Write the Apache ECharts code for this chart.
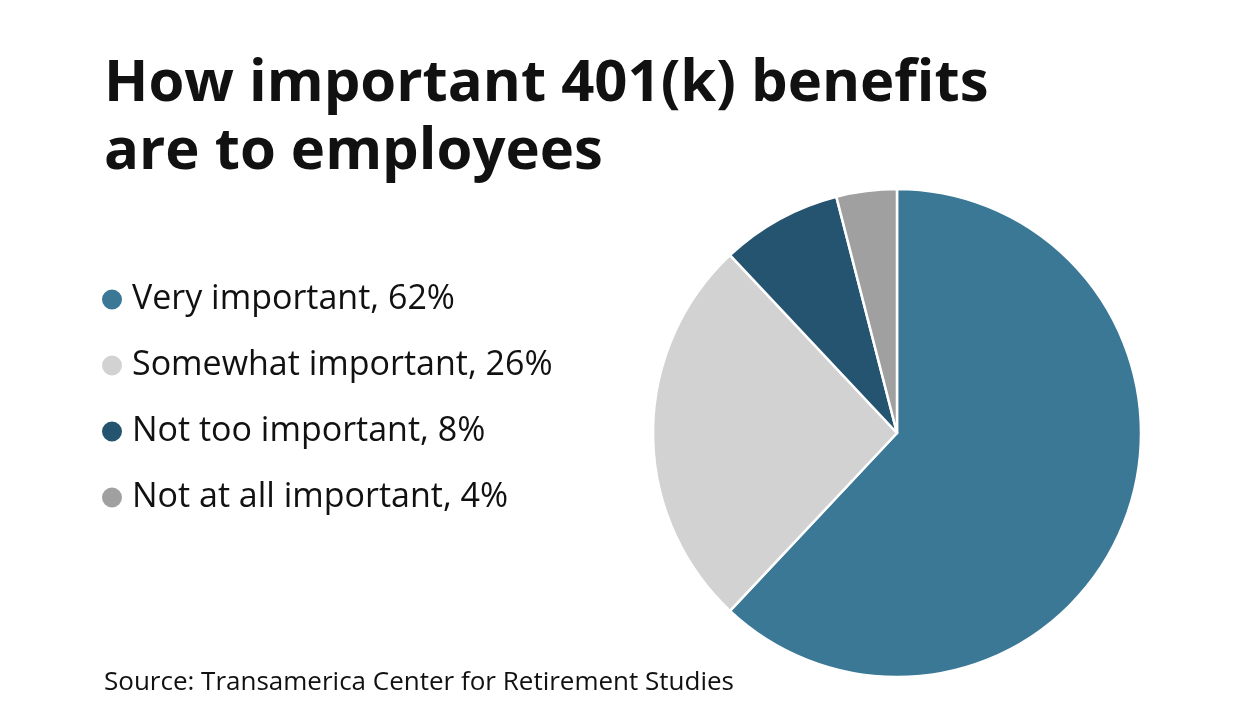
<!DOCTYPE html>
<html><head><meta charset="utf-8">
<script src="https://cdn.jsdelivr.net/npm/echarts@6/dist/echarts.min.js"></script>
<style>html,body{margin:0;padding:0;background:#fff}#c{width:1242px;height:726px}</style>
</head><body><div id="c"></div>
<script>
const categories = ["Very important", "Somewhat important", "Not too important", "Not at all important"];
const values = [62, 26, 8, 4];
const colors = ["#3a7896", "#d3d2d3", "#245470", "#a0a0a0"];
const titleText = "How important 401(k) benefits\nare to employees";
const sourceText = "Source: Transamerica Center for Retirement Studies";

const chart = echarts.init(document.getElementById('c'));
chart.setOption({
  backgroundColor: '#ffffff',
  title: [{
    text: titleText, left: 99, top: 45,
    textStyle: {fontFamily: 'Open Sans', fontWeight: 'bold', fontSize: 58, lineHeight: 68, color: '#111'}
  }, {
    text: sourceText, left: 99, top: 665,
    textStyle: {fontFamily: 'Open Sans', fontWeight: 'normal', fontSize: 26, color: '#111'}
  }],
  legend: {
    orient: 'vertical', left: 95, top: 277, icon: 'circle',
    itemWidth: 22, itemHeight: 22, itemGap: 31,
    data: categories,
    formatter: function(name){ return name + ', ' + values[categories.indexOf(name)] + '%'; },
    textStyle: {fontFamily: 'Open Sans', fontSize: 34, lineHeight: 35, color: '#111', padding: [0,0,0,4]}
  },
  series: [{
    type: 'pie', center: [897, 433], radius: 244, startAngle: 90, clockwise: true,
    label: {show: false}, labelLine: {show: false}, silent: true,
    itemStyle: {borderColor: '#fff', borderWidth: 2.5},
    data: categories.map((c, i) => ({name: c, value: values[i], itemStyle: {color: colors[i]}}))
  }]
});
</script></body></html>
